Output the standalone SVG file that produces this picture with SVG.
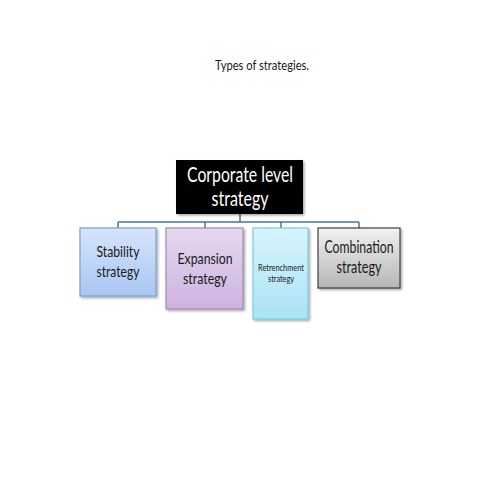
<svg xmlns="http://www.w3.org/2000/svg" width="480" height="480" viewBox="0 0 480 480">
<style>
text{font-family:Lato,"Open Sans","Liberation Sans",sans-serif;text-anchor:middle;fill:#1a1a1a}
.conn{stroke:#4a73a8;stroke-width:1.5;fill:none}
.box{stroke-width:1.2}
</style>
<defs>
<filter id="sh" x="-10%" y="-10%" width="130%" height="130%">
<feDropShadow dx="1.5" dy="1.5" stdDeviation="1.2" flood-color="#000" flood-opacity="0.35"/>
</filter>
<linearGradient id="gBlue" x1="0" y1="0" x2="0" y2="1"><stop offset="0" stop-color="#d6e4fb"/><stop offset="1" stop-color="#a9c6f3"/></linearGradient>
<linearGradient id="gPurp" x1="0" y1="0" x2="0" y2="1"><stop offset="0" stop-color="#e6d8f0"/><stop offset="1" stop-color="#ccb3df"/></linearGradient>
<linearGradient id="gCyan" x1="0" y1="0" x2="0" y2="1"><stop offset="0" stop-color="#d8f4fc"/><stop offset="1" stop-color="#a9e3f5"/></linearGradient>
<linearGradient id="gGrey" x1="0" y1="0" x2="0" y2="1"><stop offset="0" stop-color="#f2f2f2"/><stop offset="1" stop-color="#b5b5b5"/></linearGradient>
</defs>
<rect width="480" height="480" fill="#fff"/>
<text x="262" y="70" font-size="14" textLength="94" lengthAdjust="spacingAndGlyphs">Types of strategies.</text>
<g id="connectors">
<path class="conn" d="M240 214V222M118 222H359M118 222V228M205 222V228M281 222V228M359 222V228"/>
</g>
<g id="corporate">
<rect x="176" y="160" width="127" height="54" fill="#000" filter="url(#sh)"/>
<text x="240" y="182" font-size="21" textLength="106" lengthAdjust="spacingAndGlyphs" style="fill:#fff">Corporate level</text>
<text x="240" y="206" font-size="21" textLength="57" lengthAdjust="spacingAndGlyphs" style="fill:#fff">strategy</text>
</g>
<g id="stability">
<rect class="box" x="80" y="228" width="76" height="68" fill="url(#gBlue)" stroke="#7f9fcf" filter="url(#sh)"/>
<text x="118" y="257" font-size="16" textLength="43" lengthAdjust="spacingAndGlyphs">Stability</text>
<text x="118" y="277" font-size="16" textLength="43" lengthAdjust="spacingAndGlyphs">strategy</text>
</g>
<g id="expansion">
<rect class="box" x="166" y="228" width="77" height="81" fill="url(#gPurp)" stroke="#a08bb3" filter="url(#sh)"/>
<text x="205" y="264" font-size="16" textLength="55" lengthAdjust="spacingAndGlyphs">Expansion</text>
<text x="205" y="284" font-size="16" textLength="44" lengthAdjust="spacingAndGlyphs">strategy</text>
</g>
<g id="retrenchment">
<rect class="box" x="253" y="228" width="55" height="91" fill="url(#gCyan)" stroke="#7fc8dc" filter="url(#sh)"/>
<text x="281" y="271" font-size="9.5" textLength="46" lengthAdjust="spacingAndGlyphs">Retrenchment</text>
<text x="281" y="282" font-size="9.5" textLength="26" lengthAdjust="spacingAndGlyphs">strategy</text>
</g>
<g id="combination">
<rect class="box" x="318" y="228" width="82" height="60" fill="url(#gGrey)" stroke="#404040" filter="url(#sh)"/>
<text x="359" y="253" font-size="17" textLength="69" lengthAdjust="spacingAndGlyphs">Combination</text>
<text x="359" y="273" font-size="17" textLength="45" lengthAdjust="spacingAndGlyphs">strategy</text>
</g>
</svg>
